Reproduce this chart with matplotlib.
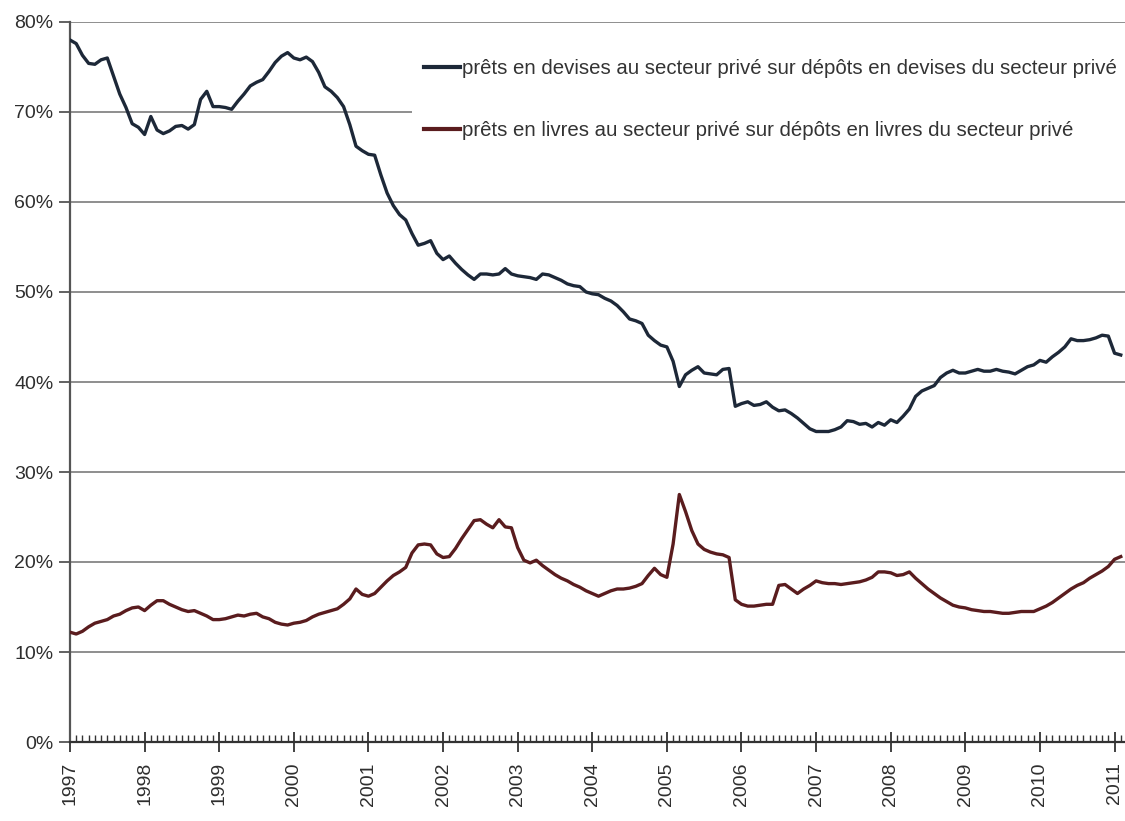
import numpy as np
import matplotlib
matplotlib.use("Agg")
import matplotlib.pyplot as plt
from matplotlib.ticker import FixedLocator, MultipleLocator, FuncFormatter

# monthly observations, Jan 1997 .. Feb 2011 (in %)
start_year = 1997
years = list(range(1997, 2012))

devises = [
    # 1997
    78.0, 77.6, 76.3, 75.4, 75.3, 75.8, 76.0, 74.0, 72.0, 70.5, 68.7, 68.3,
    # 1998
    67.5, 69.5, 68.0, 67.6, 67.9, 68.4, 68.5, 68.1, 68.6, 71.4, 72.3, 70.6,
    # 1999
    70.6, 70.5, 70.3, 71.2, 72.0, 72.9, 73.3, 73.6, 74.5, 75.5, 76.2, 76.6,
    # 2000
    76.0, 75.8, 76.1, 75.6, 74.4, 72.8, 72.3, 71.6, 70.6, 68.6, 66.2, 65.7,
    # 2001
    65.3, 65.2, 63.0, 61.0, 59.6, 58.6, 58.0, 56.5, 55.2, 55.4, 55.7, 54.3,
    # 2002
    53.6, 54.0, 53.2, 52.5, 51.9, 51.4, 52.0, 52.0, 51.9, 52.0, 52.6, 52.0,
    # 2003
    51.8, 51.7, 51.6, 51.4, 52.0, 51.9, 51.6, 51.3, 50.9, 50.7, 50.6, 50.0,
    # 2004
    49.8, 49.7, 49.3, 49.0, 48.5, 47.8, 47.0, 46.8, 46.5, 45.2, 44.6, 44.1,
    # 2005
    43.9, 42.3, 39.5, 40.8, 41.3, 41.7, 41.0, 40.9, 40.8, 41.4, 41.5, 37.3,
    # 2006
    37.6, 37.8, 37.4, 37.5, 37.8, 37.2, 36.8, 36.9, 36.5, 36.0, 35.4, 34.8,
    # 2007
    34.5, 34.5, 34.5, 34.7, 35.0, 35.7, 35.6, 35.3, 35.4, 35.0, 35.5, 35.2,
    # 2008
    35.8, 35.5, 36.2, 37.0, 38.4, 39.0, 39.3, 39.6, 40.5, 41.0, 41.3, 41.0,
    # 2009
    41.0, 41.2, 41.4, 41.2, 41.2, 41.4, 41.2, 41.1, 40.9, 41.3, 41.7, 41.9,
    # 2010
    42.4, 42.2, 42.8, 43.3, 43.9, 44.8, 44.6, 44.6, 44.7, 44.9, 45.2, 45.1,
    # 2011
    43.2, 43.0,
]

livres = [
    # 1997
    12.2, 12.0, 12.3, 12.8, 13.2, 13.4, 13.6, 14.0, 14.2, 14.6, 14.9, 15.0,
    # 1998
    14.6, 15.2, 15.7, 15.7, 15.3, 15.0, 14.7, 14.5, 14.6, 14.3, 14.0, 13.6,
    # 1999
    13.6, 13.7, 13.9, 14.1, 14.0, 14.2, 14.3, 13.9, 13.7, 13.3, 13.1, 13.0,
    # 2000
    13.2, 13.3, 13.5, 13.9, 14.2, 14.4, 14.6, 14.8, 15.3, 15.9, 17.0, 16.4,
    # 2001
    16.2, 16.5, 17.2, 17.9, 18.5, 18.9, 19.4, 21.0, 21.9, 22.0, 21.9, 20.9,
    # 2002
    20.5, 20.6, 21.5, 22.6, 23.6, 24.6, 24.7, 24.2, 23.8, 24.7, 23.9, 23.8,
    # 2003
    21.6, 20.2, 19.9, 20.2, 19.6, 19.1, 18.6, 18.2, 17.9, 17.5, 17.2, 16.8,
    # 2004
    16.5, 16.2, 16.5, 16.8, 17.0, 17.0, 17.1, 17.3, 17.6, 18.5, 19.3, 18.6,
    # 2005
    18.3, 22.0, 27.5, 25.6, 23.5, 22.0, 21.4, 21.1, 20.9, 20.8, 20.5, 15.8,
    # 2006
    15.3, 15.1, 15.1, 15.2, 15.3, 15.3, 17.4, 17.5, 17.0, 16.5, 17.0, 17.4,
    # 2007
    17.9, 17.7, 17.6, 17.6, 17.5, 17.6, 17.7, 17.8, 18.0, 18.3, 18.9, 18.9,
    # 2008
    18.8, 18.5, 18.6, 18.9, 18.2, 17.6, 17.0, 16.5, 16.0, 15.6, 15.2, 15.0,
    # 2009
    14.9, 14.7, 14.6, 14.5, 14.5, 14.4, 14.3, 14.3, 14.4, 14.5, 14.5, 14.5,
    # 2010
    14.8, 15.1, 15.5, 16.0, 16.5, 17.0, 17.4, 17.7, 18.2, 18.6, 19.0, 19.5,
    # 2011
    20.3, 20.6,
]

label_devises = "prêts en devises au secteur privé sur dépôts en devises du secteur privé"
label_livres = "prêts en livres au secteur privé sur dépôts en livres du secteur privé"

months = start_year + np.arange(len(devises)) / 12.0

fig = plt.figure(figsize=(11.25, 8.21), dpi=100)
ax = fig.add_axes([70 / 1125, 79 / 821, 1055 / 1125, 720 / 821])

ax.plot(months, devises, color="#1d2838", lw=2.4, label=label_devises, zorder=3)
ax.plot(months, livres, color="#5a1c1e", lw=2.4, label=label_livres, zorder=3)

ax.set_xlim(1997, 2011.14)
ax.set_ylim(0, 80)

# y axis
ax.yaxis.set_major_locator(MultipleLocator(10))
ax.yaxis.set_major_formatter(FuncFormatter(lambda v, p: f"{v:.0f}%"))
ax.yaxis.grid(True, color="#8e8e8e", lw=1.4)
ax.set_axisbelow(True)

# x axis
ax.xaxis.set_major_locator(FixedLocator(years))
ax.xaxis.set_minor_locator(MultipleLocator(1 / 12))
ax.set_xticklabels([str(y) for y in years], rotation=90)

for s in ["top", "right"]:
    ax.spines[s].set_visible(False)
ax.spines["left"].set_color("#555555")
ax.spines["left"].set_linewidth(1.6)
ax.spines["bottom"].set_color("#333333")
ax.spines["bottom"].set_linewidth(1.6)

tick_family = ["Liberation Sans", "DejaVu Sans"]
ax.tick_params(axis="y", which="major", length=8, width=1.3, color="#555555",
               labelcolor="#2e2e2e", pad=4)
ax.tick_params(axis="x", which="major", direction="inout", length=15, width=1.3,
               color="#333333", labelcolor="#2e2e2e", pad=7)
ax.tick_params(axis="x", which="minor", direction="in", length=5, width=1.0,
               color="#333333")
for lab in ax.get_yticklabels() + ax.get_xticklabels():
    lab.set_fontfamily(tick_family)
    lab.set_fontsize(14)

leg = ax.legend(loc="upper left", bbox_to_anchor=(412 / 1125, 1 - 47 / 821),
                bbox_transform=fig.transFigure, frameon=True, fancybox=False,
                facecolor="white", edgecolor="none", framealpha=1,
                borderpad=0.6, borderaxespad=0, labelspacing=2.1,
                handlelength=1.75, handletextpad=0.1,
                prop={"family": ["Liberation Sans", "DejaVu Sans"], "size": 14.7})
for t in leg.get_texts():
    t.set_color("#333333")
for h in leg.get_lines():
    h.set_linewidth(3)

fig.savefig("out.png", dpi=100)
